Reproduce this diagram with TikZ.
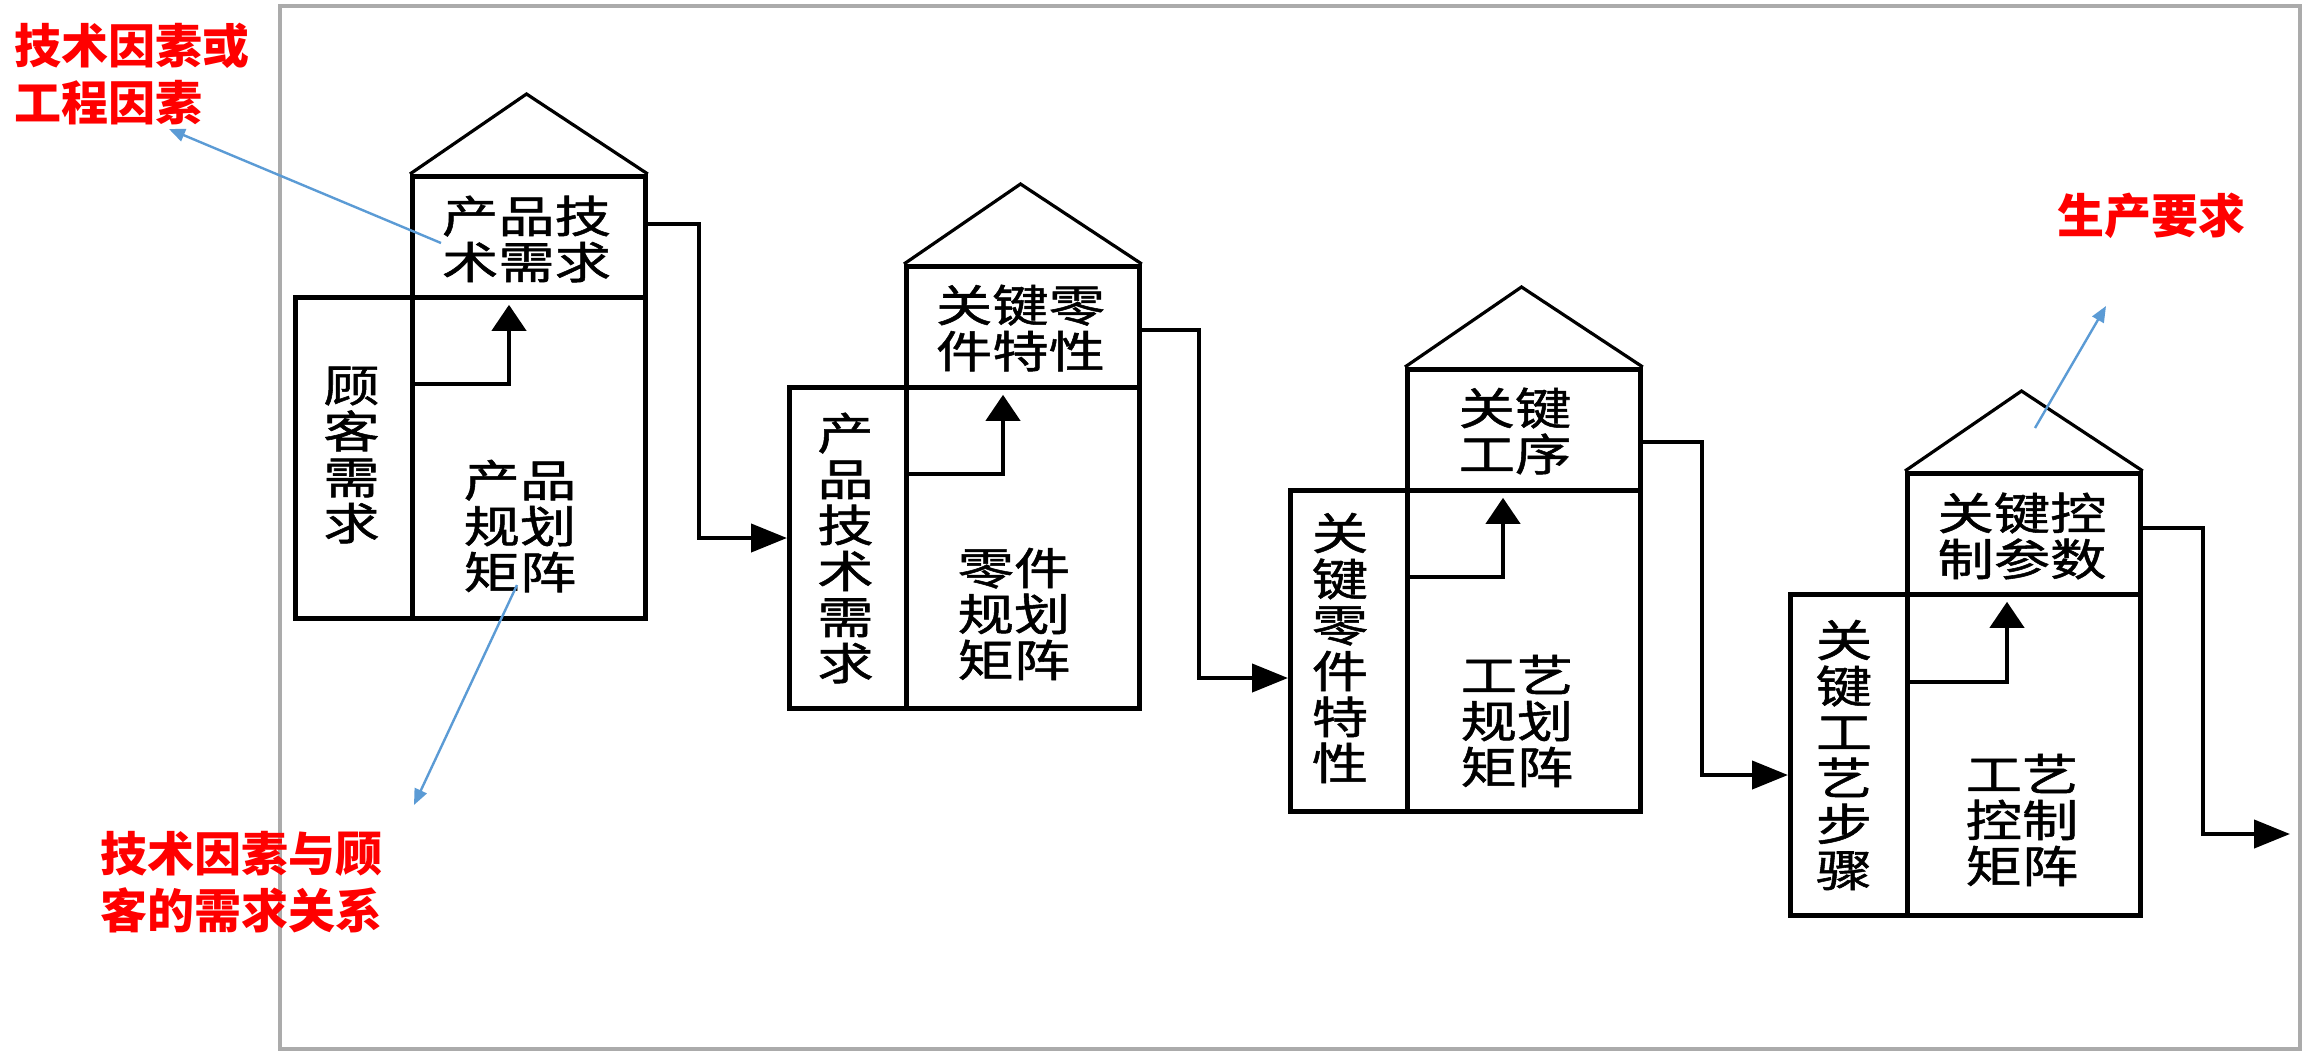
\documentclass[tikz,border=0pt]{standalone}
\usepackage{fontspec}
\usetikzlibrary{arrows.meta,calc}
\newfontfamily\boxfont[FakeStretch=1.28,FakeBold=1.2]{Noto Sans CJK SC}
\newfontfamily\redfont{Noto Sans CJK SC}
\definecolor{annored}{HTML}{FF0000}
\definecolor{annoblue}{HTML}{5B9BD5}
\definecolor{framegray}{HTML}{ABABAB}
\begin{document}
\begin{tikzpicture}[x=0.5pt,y=-0.5pt,
  leftcell/.style={draw=black,line width=2.4pt,inner sep=0pt,anchor=north west,minimum width=58.5pt,minimum height=160.5pt},
  maincell/.style={draw=black,line width=2.4pt,inner sep=0pt,anchor=north west,minimum width=116.5pt,minimum height=160.5pt},
  topcell/.style={draw=black,line width=2.4pt,inner sep=0pt,anchor=north west,minimum width=116.5pt,minimum height=60.5pt},
  roofline/.style={draw=black,line width=1.6pt,line join=miter},
  boxtext/.style={font=\boxfont\fontsize{22}{23}\selectfont,align=center,inner sep=0pt,text=black},
  conn/.style={draw=black,line width=2.1pt},
  harrow/.style={conn,-{Triangle[length=18pt,width=14pt]}},
  varrow/.style={conn,-{Triangle[length=13pt,width=17pt]},shorten >=2.5pt},
  redlabel/.style={font=\redfont\bfseries\fontsize{23.5}{28.5}\selectfont,text=annored,align=left,inner sep=0pt,anchor=west},
  bluearrow/.style={draw=annoblue,line width=1.2pt,-{Triangle[length=8pt,width=6.5pt]}}
]
\useasboundingbox (0,0) rectangle (2304,1051);
\fill[white] (0,0) rectangle (2304,1051);
% frame
\draw[framegray,line width=2.2pt] (280,6) rectangle (2300,1049);

% ---------- House 1 ----------
\node[leftcell] (h1left) at (293,295) {};
\node[maincell] (h1main) at (410,295) {};
\node[topcell] (h1top) at (410,174) {};
\coordinate (h1apex) at (526.5,94);
\draw[roofline] (h1top.north west) -- (h1apex) -- (h1top.north east);
\node[boxtext] (h1toptext) at (526.5,239) {产品技\\术需求};
\node[boxtext] (h1lefttext) at (351.5,455) {顾\\客\\需\\求};
\node[boxtext] (h1maintext) at (520,526) {产品\\规划\\矩阵};
\coordinate (h1bend) at (509,384);
\draw[varrow] (h1main.west |- h1bend) -- (h1bend) -- (h1top.south -| h1bend);

% ---------- House 2 ----------
\node[leftcell] (h2left) at (787,385) {};
\node[maincell] (h2main) at (904,385) {};
\node[topcell] (h2top) at (904,264) {};
\coordinate (h2apex) at (1020.5,184);
\draw[roofline] (h2top.north west) -- (h2apex) -- (h2top.north east);
\node[boxtext] (h2toptext) at (1020.5,328) {关键零\\件特性};
\node[boxtext] (h2lefttext) at (845.5,548) {产\\品\\技\\术\\需\\求};
\node[boxtext] (h2maintext) at (1014,614) {零件\\规划\\矩阵};
\coordinate (h2bend) at (1003,474);
\draw[varrow] (h2main.west |- h2bend) -- (h2bend) -- (h2top.south -| h2bend);

% ---------- House 3 ----------
\node[leftcell] (h3left) at (1288,488) {};
\node[maincell] (h3main) at (1405,488) {};
\node[topcell] (h3top) at (1405,367) {};
\coordinate (h3apex) at (1521.5,287);
\draw[roofline] (h3top.north west) -- (h3apex) -- (h3top.north east);
\node[boxtext] (h3toptext) at (1515,431) {关键\\工序};
\node[boxtext] (h3lefttext) at (1340,648) {关\\键\\零\\件\\特\\性};
\node[boxtext] (h3maintext) at (1517,721) {工艺\\规划\\矩阵};
\coordinate (h3bend) at (1503,577);
\draw[varrow] (h3main.west |- h3bend) -- (h3bend) -- (h3top.south -| h3bend);

% ---------- House 4 ----------
\node[leftcell] (h4left) at (1788,592) {};
\node[maincell] (h4main) at (1905,592) {};
\node[topcell] (h4top) at (1905,471) {};
\coordinate (h4apex) at (2021.5,391);
\draw[roofline] (h4top.north west) -- (h4apex) -- (h4top.north east);
\node[boxtext] (h4toptext) at (2022,536) {关键控\\制参数};
\node[boxtext] (h4lefttext) at (1844,755) {关\\键\\工\\艺\\步\\骤};
\node[boxtext] (h4maintext) at (2022,820) {工艺\\控制\\矩阵};
\coordinate (h4bend) at (2007,682);
\draw[varrow] (h4main.west |- h4bend) -- (h4bend) -- (h4top.south -| h4bend);

% ---------- connectors between houses ----------
\coordinate (k1a) at (699,224);  \coordinate (k1b) at (699,538);
\coordinate (k2a) at (1199,330); \coordinate (k2b) at (1199,678);
\coordinate (k3a) at (1702,442); \coordinate (k3b) at (1702,775);
\coordinate (k4a) at (2203,528); \coordinate (k4b) at (2203,834);
\coordinate (outend) at (2290,834);
\draw[harrow] (h1top.east |- k1a) -- (k1a) -- (k1b) -- (h2left.west |- k1b);
\draw[harrow] (h2top.east |- k2a) -- (k2a) -- (k2b) -- (h3left.west |- k2b);
\draw[harrow] (h3top.east |- k3a) -- (k3a) -- (k3b) -- (h4left.west |- k3b);
\draw[harrow] (h4top.east |- k4a) -- (k4a) -- (k4b) -- (outend);

% ---------- annotations ----------
\node[redlabel] (lab1) at (14,74) {技术因素或\\工程因素};
\node[redlabel] (lab2) at (100,882) {技术因素与顾\\客的需求关系};
\node[redlabel] (lab3) at (2057,216) {生产要求};
\coordinate (b1s) at (441,243); \coordinate (b1e) at (169,129);
\coordinate (b2s) at (517,585); \coordinate (b2e) at (414,805);
\coordinate (b3s) at (2035,428); \coordinate (b3e) at (2106,306);
\draw[bluearrow] (b1s) -- (b1e);
\draw[bluearrow] (b2s) -- (b2e);
\draw[bluearrow] (b3s) -- (b3e);
\end{tikzpicture}
\end{document}
